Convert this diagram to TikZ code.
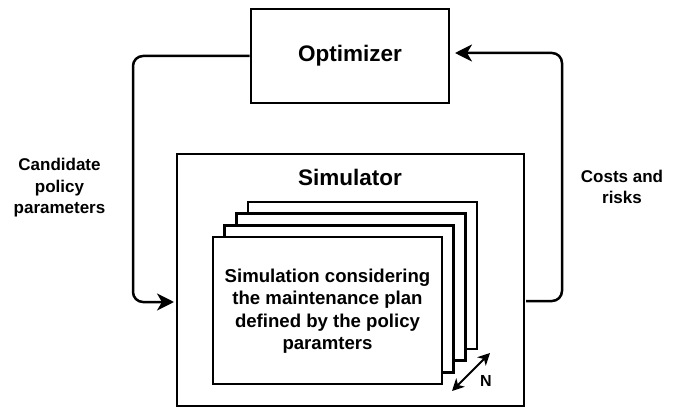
\documentclass[tikz,border=0pt]{standalone}
\usepackage{fontspec}
\setmainfont{Liberation Sans}
\usetikzlibrary{arrows.meta,calc}
\begin{document}
\begin{tikzpicture}[x=1pt,y=-1pt,
  box/.style={draw=black,line width=2.7pt,fill=white,inner sep=0pt},
  bigtxt/.style={font=\bfseries\fontsize{22.5}{27}\selectfont},
  midtxt/.style={font=\bfseries\fontsize{18.6}{22.5}\selectfont,align=center},
  lbltxt/.style={font=\bfseries\fontsize{17}{21.5}\selectfont,align=center},
  conn/.style={line width=2.5pt,rounded corners=10pt,-{Stealth[length=17pt,width=17pt,inset=5pt]}},
  narrow/.style={line width=2pt,{Stealth[length=12pt,width=12pt,inset=3.5pt]}-{Stealth[length=12pt,width=12pt,inset=3.5pt]}}
]
\useasboundingbox (0,0) rectangle (677,409);

% Optimizer
\node[box,minimum width=198pt,minimum height=94pt] (opt) at (350,56) {};
\node[bigtxt] (optl) at (350,56) {Optimizer};

% Simulator
\node[box,minimum width=347pt,minimum height=252pt] (sim) at (350.5,280) {};
\node[bigtxt] (siml) at (350,177) {Simulator};

% stacked simulations
\node[box,minimum width=229pt,minimum height=147pt] (s4) at (362.5,275.5) {};
\node[box,minimum width=229pt,minimum height=147pt] (s3) at (350.8,287.2) {};
\node[box,minimum width=229pt,minimum height=147pt] (s2) at (339.2,298.8) {};
\node[box,minimum width=229pt,minimum height=147pt] (s1) at (327.5,310.5) {};
\node[midtxt] (s1l) at (327.5,311) {Simulation considering\\the maintenance plan\\defined by the policy\\paramters};

% N arrow
\coordinate (na) at (452,391);
\coordinate (nb) at (490,353);
\draw[narrow] (na) -- (nb);
\node[font=\bfseries\fontsize{16}{19}\selectfont] (nl) at (486,381) {N};

% labels
\node[lbltxt] (cand) at (59.5,188) {Candidate\\policy\\parameters};
\node[lbltxt] (cost) at (622,187) {Costs and\\risks};

% connectors
\coordinate (l1) at (133,56);
\coordinate (l2) at (133,302);
\coordinate (l3) at (174,302);
\draw[conn] (opt.west) -- (l1) -- (l2) -- (l3);

\coordinate (r0) at (526,301);
\coordinate (r1) at (562,301);
\coordinate (r2) at (562,53);
\coordinate (r3) at (455,53);
\draw[conn] (r0) -- (r1) -- (r2) -- (r3);
\end{tikzpicture}
\end{document}
